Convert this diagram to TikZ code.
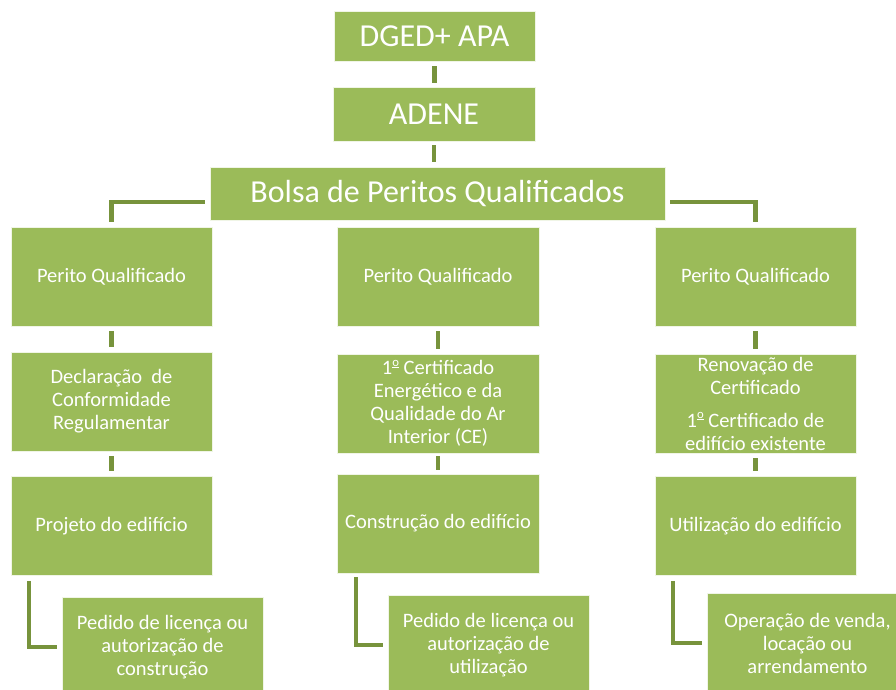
\documentclass[tikz,border=0pt]{standalone}
\usepackage{fontspec}
\setmainfont{Carlito}
\definecolor{boxgreen}{HTML}{9BBB59}
\definecolor{linegreen}{HTML}{77933C}
\newcommand{\ordm}{\raisebox{0.42em}{\scalebox{0.62}{\underline{o}}}}
\begin{document}
\begin{tikzpicture}[x=1pt,y=-1pt,
  box/.style={fill=boxgreen, draw=white!85!boxgreen, line width=0.8pt, text=white, align=center, inner sep=0pt, minimum width=201pt, minimum height=99pt},
  big/.style={font=\fontsize{32}{38}\selectfont},
  mid/.style={font=\fontsize{20.5}{23}\selectfont},
  conn/.style={draw=linegreen, line width=4.5pt}
]
\useasboundingbox (0,0) rectangle (896,690);
% top
\node[box,big,minimum height=50pt] (dged) at (434.5,36) {DGED+ APA};
\node[box,big,minimum width=202pt,minimum height=54pt] (adene) at (434,114) {ADENE};
\node[box,big,minimum width=455pt,minimum height=53pt] (bolsa) at (437.5,193.5) {Bolsa de Peritos Qualificados};
% row 1
\node[box,mid] (pq1) at (111.5,276.5) {Perito Qualificado};
\node[box,mid,minimum width=202pt] (pq2) at (438,276.5) {Perito Qualificado};
\node[box,mid] (pq3) at (755.5,276.5) {Perito Qualificado};
% row 2
\node[box,mid] (dec) at (111.5,401.5) {Declaração~ de\\Conformidade\\Regulamentar};
\node[box,mid,minimum width=202pt] (cert) at (438,403.5) {1\ordm{} Certificado\\Energético e da\\Qualidade do Ar\\Interior (CE)};
\node[box,mid] (ren) at (755.5,403.5) {Renovação de\\Certificado\\[10pt]1\ordm{} Certificado de\\edifício existente};
% row 3
\node[box,mid] (proj) at (111.5,526) {Projeto do edifício};
\node[box,mid,minimum width=202pt] (cons) at (438,523.5) {Construção do edifício};
\node[box,mid] (util) at (755.5,526) {Utilização do edifício};
% row 4
\node[box,mid,minimum height=100pt] (ped1) at (162.5,647) {Pedido de licença ou\\autorização de\\construção};
\node[box,mid,minimum height=100pt] (ped2) at (488.5,645) {Pedido de licença ou\\autorização de\\utilização};
\node[box,mid,minimum height=100pt] (oper) at (807.5,643) {Operação de venda,\\locação ou\\arrendamento};
% connectors
\draw[conn,shorten <=5pt,shorten >=4pt] (dged.south) -- (dged.south |- adene.north);
\draw[conn,shorten <=4pt,shorten >=5pt] (adene.south) -- (adene.south |- bolsa.north);
\draw[conn] ([xshift=-5pt,yshift=-8.5pt]bolsa.west) -| ([yshift=5pt]pq1.north);
\draw[conn] ([xshift=5pt,yshift=-8.5pt]bolsa.east) -| ([yshift=5pt]pq3.north);
\draw[conn,shorten <=5pt,shorten >=5pt] (pq1.south) -- (pq1.south |- dec.north);
\draw[conn,shorten <=5pt,shorten >=5pt] (pq2.south) -- (pq2.south |- cert.north);
\draw[conn,shorten <=5pt,shorten >=5pt] (pq3.south) -- (pq3.south |- ren.north);
\draw[conn,shorten <=5pt,shorten >=5pt] (dec.south) -- (dec.south |- proj.north);
\draw[conn,shorten <=3pt,shorten >=4pt] (cert.south) -- (cert.south |- cons.north);
\draw[conn,shorten <=5pt,shorten >=5pt] (ren.south) -- (ren.south |- util.north);
\draw[conn,line width=4pt] ([xshift=18pt,yshift=-5pt]proj.south west) |- ([xshift=-5pt]ped1.west);
\draw[conn,line width=4pt] ([xshift=19pt,yshift=-4pt]cons.south west) |- ([xshift=-5pt]ped2.west);
\draw[conn,line width=4pt] ([xshift=18pt,yshift=-5pt]util.south west) |- ([xshift=-5pt]oper.west);
\end{tikzpicture}
\end{document}
